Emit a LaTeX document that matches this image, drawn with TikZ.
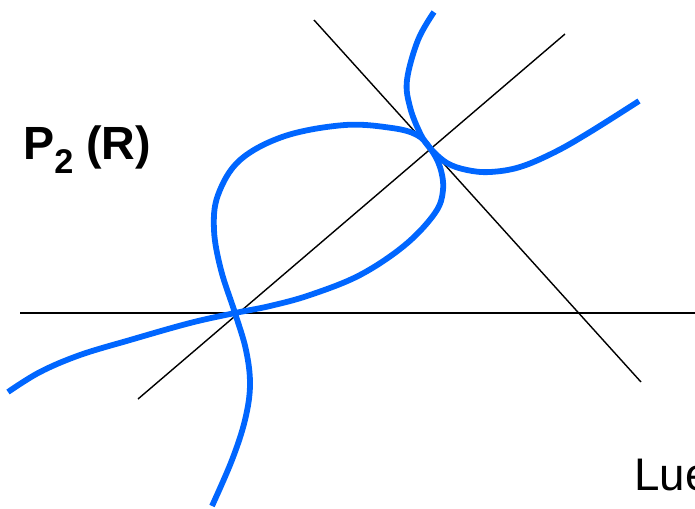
\documentclass[tikz,border=0pt]{standalone}
\usepackage{fontspec}
\setmainfont{Liberation Sans}
\definecolor{curveblue}{RGB}{0,102,255}
\tikzset{
  axisline/.style={black,line width=0.8pt},
  curveline/.style={curveblue,line width=3.3pt,line cap=butt,smooth,tension=0.6},
}
\begin{document}
\begin{tikzpicture}[x=0.2mm,y=-0.2mm]
\useasboundingbox (0,0) rectangle (695,508);
\clip (0,0) rectangle (695,508);
% the two double points
\coordinate (lowpt) at (235,313);
\coordinate (uppt) at (430,148);
% straight lines
\coordinate (hl) at (20,313);
\coordinate (hr) at (700,313);
\coordinate (da) at (138,399);
\coordinate (db) at (565,34);
\coordinate (ea) at (314,20);
\coordinate (eb) at (641,382);
\draw[axisline] (hl) -- (hr);
\draw[axisline] (da) -- (db);
\draw[axisline] (ea) -- (eb);
% curve with the loop
\draw[curveline] plot coordinates {(212,506) (232,460) (245,420) (250,385) (246,350) (lowpt)
  (221,270) (214,230) (218,195) (240,160) (285,136) (345,125) (392,128) (417,135) (uppt)
  (440,167) (443,190) (435,213) (405,245) (360,275) (310,295) (270,306) (lowpt)
  (190,323) (130,340) (80,355) (40,372) (8,392)};
% second branch
\draw[curveline] plot coordinates {(434,12) (418,40) (407,80) (410,107) (420,133) (uppt)
  (447,163) (467,170) (490,172) (520,167) (555,152) (590,132) (639,101)};
% labels
\node[anchor=base west,inner sep=0pt,font=\fontsize{26.5pt}{28pt}\selectfont\bfseries] (plane) at (23,159)
  {P\raisebox{-8.5pt}{\fontsize{19.5pt}{20pt}\selectfont 2} (R)};
\node[anchor=base west,inner sep=0pt,font=\fontsize{26pt}{28pt}\selectfont] (name) at (634,490) {Lue};
\end{tikzpicture}
\end{document}
